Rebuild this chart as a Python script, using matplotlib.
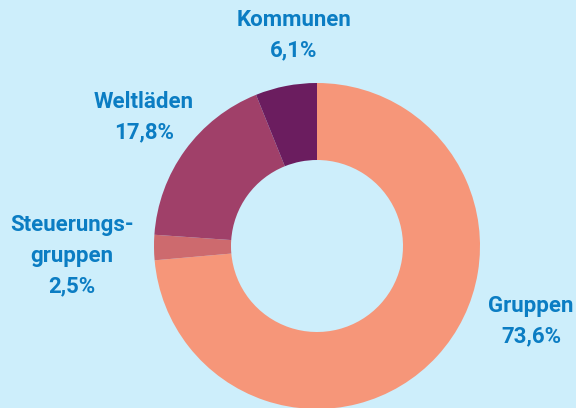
import matplotlib
matplotlib.use("Agg")
import matplotlib.pyplot as plt

categories = ["Gruppen", "Steuerungs-\ngruppen", "Weltläden", "Kommunen"]
values = [73.6, 2.5, 17.8, 6.1]
colors = ["#f69679", "#cd6a6e", "#a04069", "#6b1d5f"]
# label anchor positions in pixel coords (x, y from top)
label_pos = [(531, 321), (72, 256), (144, 117), (294, 35)]

bg = "#cdeefb"
txt = "#0b7dc3"

fig = plt.figure(figsize=(5.76, 4.08), dpi=100, facecolor=bg)
ax = fig.add_axes([0, 0, 1, 1])
ax.set_facecolor(bg)

cx, cy, R, r = 317, 408 - 246, 163, 86
ax.pie(values, colors=colors, startangle=90, counterclock=False,
       center=(cx, cy), radius=R, frame=True,
       wedgeprops=dict(width=R - r, linewidth=0))
ax.set_xlim(0, 576)
ax.set_ylim(0, 408)
ax.set_aspect("equal")
ax.axis("off")

for cat, v, (x, y) in zip(categories, values, label_pos):
    s = f"{cat}\n{v:.1f}".replace(".", ",") + "%"
    ax.text(x, 408 - y, s, ha="center", va="center", color=txt,
            fontsize=16, fontweight="bold", family="Roboto",
            linespacing=1.52)

fig.savefig("out.png", dpi=100, facecolor=bg)
